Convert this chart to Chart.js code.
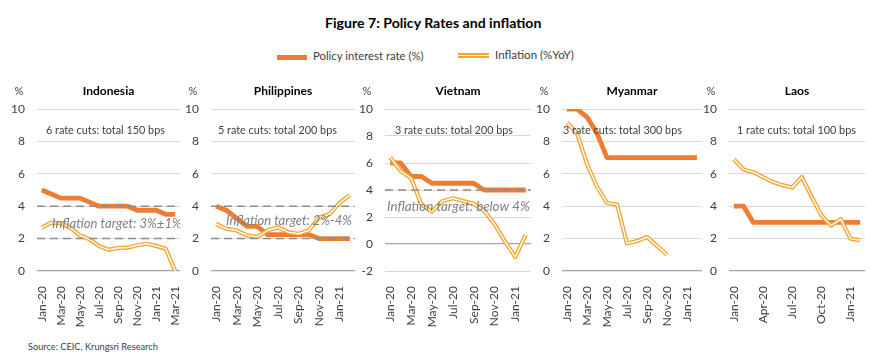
<!DOCTYPE html>
<html>
<head>
<meta charset="utf-8">
<script src="https://cdn.jsdelivr.net/npm/chart.js@4.4.1/dist/chart.umd.min.js"></script>
<style>
  body { margin: 0; background: #fff; font-family: Lato, "Open Sans", sans-serif; color: #404040; }
  #wrap { position: relative; width: 870px; height: 362px; overflow: hidden; }
  canvas { position: absolute; top: 80px; }
  .txt { position: absolute; white-space: nowrap; line-height: 1; }
  #title { font-weight: bold; color: #000; }
  .icon { position: absolute; }
</style>
</head>
<body>
<div id="wrap">
  <div id="title" class="txt">Figure 7: Policy Rates and inflation</div>
  <div class="icon" style="left:277px;top:55px;width:30px;height:5px;background:#ED7D31"></div>
  <div id="lg1" class="txt">Policy interest rate (%)</div>
  <div class="icon" style="left:458px;top:53px;width:31px;height:1px;background:#fff;border-top:2px solid #F2A534;border-bottom:2px solid #F2A534"></div>
  <div id="lg2" class="txt">Inflation (%YoY)</div>
  <div id="source" class="txt">Source: CEIC, Krungsri Research</div>
  <canvas id="c1" width="173" height="250" style="left:7px"></canvas>
  <canvas id="c2" width="174" height="250" style="left:181px"></canvas>
  <canvas id="c3" width="176" height="250" style="left:355px"></canvas>
  <canvas id="c4" width="170" height="250" style="left:532px"></canvas>
  <canvas id="c5" width="166" height="250" style="left:699px"></canvas>
</div>
<script>
// months on the x axis
const monthsLong = ['Jan-20','Feb-20','Mar-20','Apr-20','May-20','Jun-20','Jul-20','Aug-20','Sep-20','Oct-20','Nov-20','Dec-20','Jan-21','Feb-21','Mar-21'];
const monthsShort = monthsLong.slice(0, 14);

// Indonesia
const idPolicy = [5.00, 4.75, 4.50, 4.50, 4.50, 4.25, 4.00, 4.00, 4.00, 4.00, 3.75, 3.75, 3.75, 3.50, 3.50];
const idInflation = [2.68, 2.98, 2.96, 2.67, 2.19, 1.96, 1.54, 1.32, 1.42, 1.44, 1.59, 1.68, 1.55, 1.38, 0];
// Philippines
const phPolicy = [4.00, 3.75, 3.25, 2.75, 2.75, 2.25, 2.25, 2.25, 2.25, 2.25, 2.00, 2.00, 2.00, 2.00];
const phInflation = [2.9, 2.6, 2.5, 2.2, 2.1, 2.5, 2.7, 2.4, 2.3, 2.5, 3.3, 3.5, 4.2, 4.7];
// Vietnam
const vnPolicy = [6.0, 6.0, 5.0, 5.0, 4.5, 4.5, 4.5, 4.5, 4.5, 4.0, 4.0, 4.0, 4.0, 4.0];
const vnInflation = [6.43, 5.40, 4.87, 2.93, 2.40, 3.17, 3.39, 3.18, 2.98, 2.47, 1.48, 0.19, -0.97, 0.70];
// Myanmar
const mmPolicy = [10, 10, 9.5, 8.5, 7, 7, 7, 7, 7, 7, 7, 7, 7, 7];
const mmInflation = [9.15, 8.5, 6.6, 5.2, 4.2, 4.1, 1.7, 1.85, 2.1, 1.55, 1.0, null, null, null];
// Laos
const laPolicy = [4, 4, 3, 3, 3, 3, 3, 3, 3, 3, 3, 3, 3, 3];
const laInflation = [6.9, 6.27, 6.1, 5.8, 5.5, 5.3, 5.15, 5.8, 4.6, 3.45, 2.8, 3.2, 2.0, 1.9];

// inflation target bands
const idTargets = [2, 4];
const phTargets = [2, 4];
const vnTargets = [4];

const POLICY = '#ED7D31';
const INFL = '#F2A534';
const FONT = 'Lato, "Open Sans", sans-serif';

const panels = [
  { id: 'c1', title: 'Indonesia', labels: monthsLong, policy: idPolicy, inflation: idInflation, yMin: 0, every: 2,
    note: '6 rate cuts: total 150 bps', noteX: 9, noteW: 119,
    targets: idTargets, targetText: 'Inflation target: 3%\u00b11%', targetX: 15, targetY: 2.9, targetW: 130 },
  { id: 'c2', title: 'Philippines', labels: monthsShort, policy: phPolicy, inflation: phInflation, yMin: 0, every: 2,
    note: '5 rate cuts: total 200 bps', noteX: 7, noteW: 119,
    targets: phTargets, targetText: 'Inflation target: 2%-4%', targetX: 15, targetY: 3.1, targetW: 126 },
  { id: 'c3', title: 'Vietnam', labels: monthsShort, policy: vnPolicy, inflation: vnInflation, yMin: -2, every: 2,
    note: '3 rate cuts: total 200 bps', noteX: 10, noteW: 118,
    targets: vnTargets, targetText: 'Inflation target: below 4%', targetX: 2, targetY: 2.75, targetW: 143 },
  { id: 'c4', title: 'Myanmar', labels: monthsShort, policy: mmPolicy, inflation: mmInflation, yMin: 0, every: 2,
    note: '3 rate cuts: total 300 bps', noteX: 1, noteW: 119, targets: [] },
  { id: 'c5', title: 'Laos', labels: monthsShort, policy: laPolicy, inflation: laInflation, yMin: 0, every: 3,
    note: '1 rate cuts: total 100 bps', noteX: 8, noteW: 119, targets: [] }
];

// font size that makes a text take a given width
function fitSize(ctx, text, style, width) {
  ctx.font = style + ' 10px ' + FONT;
  return 10 * width / ctx.measureText(text).width;
}

const panelDecor = {
  id: 'panelDecor',
  afterDatasetsDraw(chart, args, p) {
    const ctx = chart.ctx, a = chart.chartArea, y = chart.scales.y;
    ctx.save();
    ctx.strokeStyle = '#8c8c8c';
    ctx.lineWidth = 1.5;
    ctx.setLineDash([8, 5]);
    p.targets.forEach(v => {
      const py = y.getPixelForValue(v);
      ctx.beginPath();
      ctx.moveTo(a.left, py);
      ctx.lineTo(a.right, py);
      ctx.stroke();
    });
    ctx.setLineDash([]);
    ctx.textBaseline = 'middle';
    ctx.textAlign = 'left';
    if (p.targetText) {
      const s = fitSize(ctx, p.targetText, 'italic', p.targetW);
      ctx.font = 'italic ' + s + 'px ' + FONT;
      ctx.fillStyle = '#7f7f7f';
      ctx.fillText(p.targetText, a.left + p.targetX, y.getPixelForValue(p.targetY));
    }
    const s2 = fitSize(ctx, p.note, '', p.noteW);
    ctx.font = s2 + 'px ' + FONT;
    ctx.fillStyle = '#404040';
    ctx.fillText(p.note, a.left + p.noteX, a.top + 21.5);
    // panel title and unit
    ctx.font = 'bold 12px ' + FONT;
    ctx.fillStyle = '#000';
    ctx.textAlign = 'center';
    ctx.fillText(p.title, (a.left + a.right) / 2, 11);
    ctx.font = '11px ' + FONT;
    ctx.fillStyle = '#404040';
    ctx.fillText('%', a.left - 18, 11);
    ctx.restore();
  }
};

panels.forEach(p => {
  new Chart(document.getElementById(p.id), {
    type: 'line',
    data: {
      labels: p.labels,
      datasets: [
        { label: 'Inflation (%YoY)', data: p.inflation, borderColor: '#fff', borderWidth: 1.4 },
        { label: 'Inflation (%YoY)', data: p.inflation, borderColor: INFL, borderWidth: 4.2 },
        { label: 'Policy interest rate (%)', data: p.policy, borderColor: POLICY, borderWidth: 4.8 }
      ]
    },
    options: {
      responsive: false,
      animation: false,
      devicePixelRatio: 1,
      layout: { padding: { top: 29, left: 0, right: 0, bottom: 0 } },
      elements: {
        point: { radius: 0 },
        line: { tension: 0, borderJoinStyle: 'round', borderCapStyle: 'butt', fill: false }
      },
      plugins: {
        legend: { display: false },
        tooltip: { enabled: false },
        panelDecor: p
      },
      scales: {
        x: {
          offset: true,
          grid: { display: false },
          border: { display: false },
          ticks: {
            autoSkip: false, minRotation: 90, maxRotation: 90, padding: 7,
            color: '#404040', font: { family: FONT, size: 12 },
            callback: (v, i) => i % p.every === 0 ? p.labels[i] : ''
          },
          afterFit: s => { s.height = 59; s.paddingLeft = 0; s.paddingRight = 0; }
        },
        y: {
          min: p.yMin, max: 10,
          border: { display: false },
          grid: {
            drawTicks: false,
            color: c => c.tick && c.tick.value === 0 ? '#a6a6a6' : '#d9d9d9',
            lineWidth: c => c.tick && c.tick.value === 0 ? 1.3 : 1
          },
          ticks: { stepSize: 2, padding: 12, color: '#404040', font: { family: FONT, size: 12 } },
          afterFit: s => { s.width = 30; s.paddingTop = 0; s.paddingBottom = 0; }
        }
      }
    },
    plugins: [panelDecor]
  });
});

// HTML texts, sized to the reference widths
const mctx = document.createElement('canvas').getContext('2d');
function place(id, left, midY, width, style) {
  const el = document.getElementById(id);
  const s = fitSize(mctx, el.textContent, style, width);
  el.style.fontSize = s + 'px';
  el.style.left = left + 'px';
  el.style.top = (midY - s / 2) + 'px';
}
place('title', 325, 23, 217, 'bold');
place('lg1', 313, 56, 111, '');
place('lg2', 495, 55, 79, '');
place('source', 28, 347, 130, '');
</script>
</body>
</html>
